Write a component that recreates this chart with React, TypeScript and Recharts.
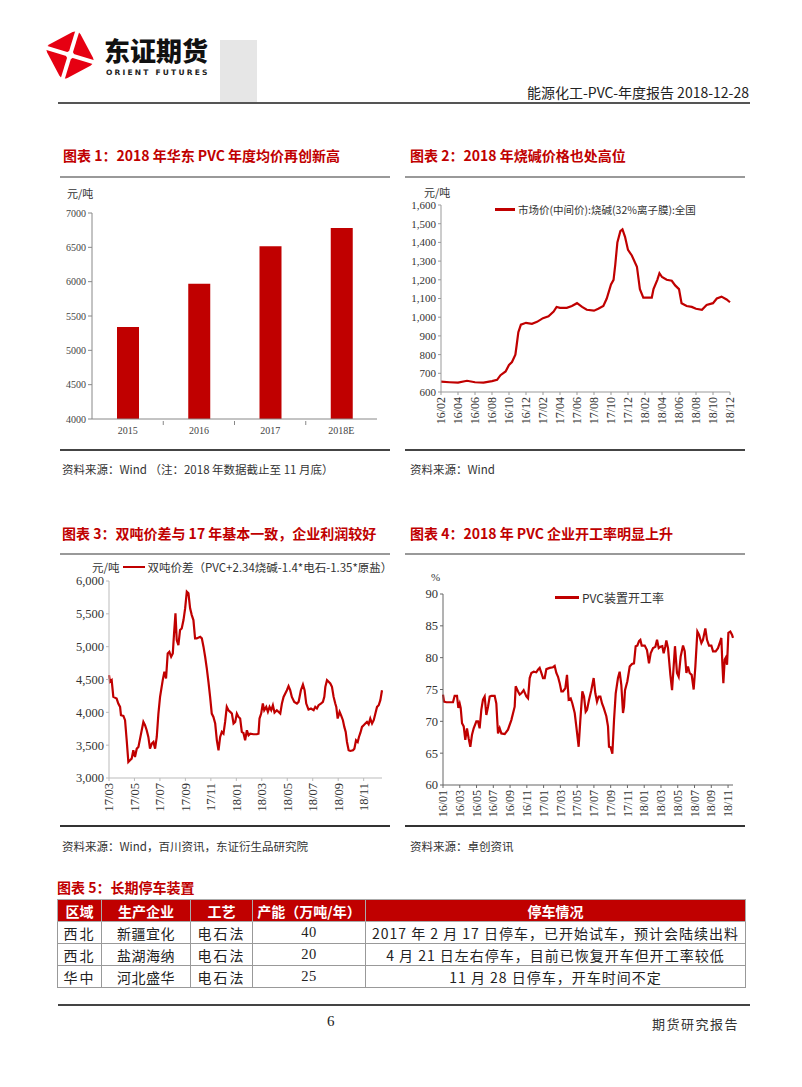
import React from "react";
import { BarChart, Bar, LineChart, Line, XAxis, YAxis } from "recharts";

const SERIF = '"Liberation Serif", "Noto Sans CJK SC", serif';
const CJK = '"Noto Sans CJK SC", "Liberation Serif", sans-serif';
const RED = "#c00000";

// 图表1：华东 PVC 年度均价
const avgYears = ["2015", "2016", "2017", "2018E"];
const avgPrice = [5340, 5970, 6515, 6780];
const avgTicks = [4000, 4500, 5000, 5500, 6000, 6500, 7000];

// 图表2：烧碱价格，月份偏移（自 16/02 起）
const sodaLabels = ["16/02", "16/04", "16/06", "16/08", "16/10", "16/12", "17/02", "17/04", "17/06", "17/08", "17/10", "17/12", "18/02", "18/04", "18/06", "18/08", "18/10", "18/12"];
const sodaMonths = [0, 1, 2, 3.06, 4, 5, 6, 6.6, 7.0, 7.6, 8, 8.35, 8.75, 8.9, 9.1, 9.4, 10, 10.7, 11.3, 12, 12.65, 13.25, 13.6, 14, 14.8, 15.4, 16, 16.6, 17.15, 18, 18.5, 19.1, 19.5, 20, 20.3, 20.5, 20.75, 21.1, 21.35, 21.65, 22, 22.45, 23.05, 23.4, 23.8, 24, 24.8, 25, 25.45, 25.7, 26, 26.55, 27.15, 27.55, 28, 28.3, 28.9, 29.5, 30, 30.7, 31.25, 32, 32.45, 33, 33.6, 34];
const sodaPrice = [655, 652, 650, 660, 652, 650, 658, 665, 690, 710, 745, 760, 800, 850, 920, 960, 970, 965, 975, 995, 1005, 1030, 1055, 1050, 1050, 1060, 1075, 1055, 1040, 1035, 1045, 1060, 1100, 1175, 1200, 1280, 1400, 1460, 1470, 1430, 1360, 1330, 1270, 1150, 1105, 1105, 1105, 1150, 1200, 1235, 1215, 1200, 1195, 1170, 1150, 1075, 1060, 1055, 1045, 1040, 1065, 1075, 1100, 1110, 1095, 1080];
const sodaTicks = [600, 700, 800, 900, 1000, 1100, 1200, 1300, 1400, 1500, 1600];

// 图表3：双吨价差，月份偏移（自 17/03 起）
const spreadLabels = ["17/03", "17/05", "17/07", "17/09", "17/11", "18/01", "18/03", "18/05", "18/07", "18/09", "18/11"];
const spreadMonths = [0, 0.08, 0.21, 0.34, 0.6, 0.73, 0.87, 0.94, 1.13, 1.26, 1.39, 1.52, 1.65, 1.78, 1.91, 2.04, 2.18, 2.31, 2.44, 2.57, 2.7, 2.83, 2.96, 3.09, 3.22, 3.36, 3.49, 3.62, 3.75, 3.88, 4.01, 4.22, 4.35, 4.48, 4.61, 4.74, 4.88, 5.01, 5.11, 5.22, 5.32, 5.45, 5.58, 5.71, 5.85, 5.98, 6.11, 6.24, 6.37, 6.5, 6.63, 6.76, 6.89, 7.16, 7.29, 7.42, 7.55, 7.68, 7.81, 7.94, 8.07, 8.2, 8.34, 8.47, 8.6, 8.73, 8.86, 8.99, 9.12, 9.25, 9.38, 9.52, 9.65, 9.78, 9.91, 10.04, 10.17, 10.3, 10.43, 10.56, 10.69, 10.83, 10.96, 11.09, 11.35, 11.61, 11.74, 11.82, 11.95, 12.08, 12.19, 12.35, 12.48, 12.61, 12.74, 12.87, 13.0, 13.18, 13.45, 13.58, 13.71, 13.97, 14.1, 14.23, 14.36, 14.55, 14.76, 14.89, 15.07, 15.23, 15.36, 15.49, 15.67, 15.86, 16.07, 16.2, 16.33, 16.46, 16.64, 16.8, 16.91, 16.99, 17.12, 17.25, 17.38, 17.51, 17.64, 17.77, 17.85, 17.96, 18.11, 18.22, 18.37, 18.48, 18.59, 18.69, 18.82, 18.95, 19.16, 19.27, 19.4, 19.53, 19.63, 19.74, 19.87, 20.0, 20.13, 20.26, 20.39, 20.52, 20.66, 20.79, 20.92, 21.05, 21.18, 21.31, 21.44];
const spreadValue = [4566, 4465, 4490, 4235, 4210, 4134, 4083, 3956, 3946, 3880, 3575, 3244, 3270, 3295, 3422, 3320, 3447, 3473, 3600, 3727, 3854, 3803, 3727, 3625, 3447, 3524, 3549, 3447, 3625, 3981, 4235, 4490, 4617, 4516, 4897, 4922, 4846, 4897, 5202, 5507, 5100, 5024, 5253, 5278, 5405, 5583, 5837, 5812, 5583, 5481, 5405, 5126, 5126, 5151, 5126, 5000, 4846, 4668, 4465, 4235, 3981, 3930, 3829, 3575, 3422, 3625, 3702, 3676, 3854, 4083, 4032, 4007, 3981, 3829, 3854, 3981, 3930, 3905, 3702, 3686, 3575, 3727, 3651, 3676, 3666, 3666, 3676, 3905, 3981, 4134, 4032, 4083, 4007, 4083, 4032, 4108, 3996, 4032, 3981, 4134, 4235, 4337, 4398, 4337, 4235, 4159, 4134, 4159, 4337, 4424, 4337, 4134, 4042, 4058, 4032, 4083, 4058, 4108, 4134, 4159, 4235, 4388, 4490, 4465, 4439, 4388, 4235, 4134, 4083, 3905, 4007, 3956, 3880, 3778, 3702, 3549, 3422, 3412, 3422, 3447, 3575, 3549, 3625, 3686, 3778, 3803, 3829, 3854, 3819, 3905, 3829, 3880, 3981, 4083, 4108, 4185, 4337];
const spreadTicks = [3000, 3500, 4000, 4500, 5000, 5500, 6000];

// 图表4：PVC 装置开工率，月份偏移（自 16/01 起）
const rateLabels = ["16/01", "16/03", "16/05", "16/07", "16/09", "16/11", "17/01", "17/03", "17/05", "17/07", "17/09", "17/11", "18/01", "18/03", "18/05", "18/07", "18/09", "18/11"];
const rateMonths = [0, 0.12, 0.4, 0.99, 1.19, 1.39, 1.67, 1.83, 1.99, 2.11, 2.27, 2.47, 2.66, 2.86, 3.06, 3.26, 3.46, 3.66, 3.98, 4.17, 4.37, 4.57, 4.77, 4.97, 5.17, 5.37, 5.57, 5.77, 6.16, 6.36, 6.56, 6.76, 6.96, 7.36, 7.75, 8.15, 8.55, 8.67, 8.95, 9.15, 9.34, 9.62, 9.94, 10.14, 10.34, 10.54, 10.82, 11.13, 11.33, 11.53, 11.73, 11.93, 12.13, 12.33, 12.72, 13.12, 13.32, 13.52, 13.72, 13.92, 14.12, 14.31, 14.59, 14.79, 14.99, 15.23, 15.43, 15.71, 15.9, 16.18, 16.38, 16.62, 16.82, 17.02, 17.18, 17.42, 17.69, 17.97, 18.17, 18.37, 18.57, 18.77, 18.97, 19.17, 19.48, 19.68, 19.8, 20.0, 20.2, 20.4, 20.6, 20.87, 21.07, 21.27, 21.47, 21.59, 21.71, 21.99, 22.27, 22.54, 22.78, 22.98, 23.18, 23.38, 23.54, 23.7, 24.06, 24.33, 24.57, 24.77, 25.05, 25.33, 25.53, 25.73, 25.92, 26.16, 26.32, 26.52, 26.64, 26.84, 27.12, 27.32, 27.51, 27.67, 27.91, 28.11, 28.35, 28.63, 28.83, 29.03, 29.22, 29.42, 29.66, 29.9, 30.1, 30.34, 30.54, 30.82, 31.01, 31.29, 31.49, 31.73, 32.01, 32.21, 32.52, 32.8, 33.08, 33.2, 33.32, 33.44, 33.6, 33.72, 33.88, 34.04, 34.27, 34.47, 34.59];
const rateValue = [74.2, 73.1, 73, 73, 73, 74, 74, 72.1, 72.8, 72.1, 69.7, 69.2, 67.1, 68.9, 67.3, 66, 67.9, 68.9, 70, 70, 68.9, 71.8, 73.4, 73.9, 71, 72.3, 73.9, 74, 74, 72.8, 68.1, 68.9, 68.1, 68, 68.7, 70.2, 72.3, 75.5, 74.7, 74.2, 74.4, 74.9, 73.9, 73.6, 76.8, 77.6, 77.8, 77.7, 78.1, 78.4, 77.6, 76.8, 76.8, 78.2, 78.4, 78.5, 78.7, 77.6, 77, 76, 74.7, 74.7, 75.2, 77.3, 73.4, 73.6, 72.8, 71.3, 69.2, 66, 70.2, 74.7, 73.9, 71.5, 71.8, 73.4, 74.9, 76.8, 74.4, 73.1, 73.9, 73.9, 72.8, 72.1, 70.8, 69.2, 66, 65.9, 64.9, 70.2, 74.4, 76.8, 77.8, 75.7, 71.3, 72.3, 74.9, 76.3, 78.6, 79, 79.1, 81.8, 81.9, 82.6, 82.8, 81.9, 81.9, 81.2, 79.1, 80.7, 81.5, 81.7, 82.8, 81.5, 81.7, 81.8, 80.7, 81.8, 82.7, 81.5, 77.3, 74.9, 78.6, 81.8, 77.6, 77, 80.2, 81.9, 81, 77.6, 78.6, 77.6, 77.3, 75, 78.6, 84.1, 83.6, 82.3, 82.8, 84.6, 82.8, 81.9, 81.9, 81, 81, 81.5, 82.6, 83.1, 79.1, 76, 79.7, 80, 78.9, 83.9, 84.1, 83.6, 83.1];
const rateTicks = [60, 65, 70, 75, 80, 85, 90];

// 图表5：长期停车装置
const tableHead = ["区域", "生产企业", "工艺", "产能（万吨/年）", "停车情况"];
const tableRows = [
  ["西北", "新疆宜化", "电石法", "40", "2017 年 2 月 17 日停车，已开始试车，预计会陆续出料"],
  ["西北", "盐湖海纳", "电石法", "20", "4 月 21 日左右停车，目前已恢复开车但开工率较低"],
  ["华中", "河北盛华", "电石法", "25", "11 月 28 日停车，开车时间不定"],
];

const avgData = avgYears.map((year, i) => ({ year, price: avgPrice[i] }));
const sodaData = sodaMonths.map((m, i) => ({ m, v: sodaPrice[i] }));
const spreadData = spreadMonths.map((m, i) => ({ m, v: spreadValue[i] }));
const rateData = rateMonths.map((m, i) => ({ m, v: rateValue[i] }));

const comma = (v: number) => v.toLocaleString("en-US");

// rotated month labels under the x axis
const RotTick = (props: any) => {
  const { x, y, payload, labels, fontSize } = props;
  const label = labels[Math.round(payload.value / 2)];
  return (
    <text
      x={x}
      y={y}
      dy="0.35em"
      transform={`rotate(-90 ${x} ${y})`}
      textAnchor="end"
      fontFamily={SERIF}
      fontSize={fontSize}
      fill="#333"
    >
      {label}
    </text>
  );
};

const abs = (left: number, top: number, extra: React.CSSProperties = {}): React.CSSProperties => ({
  position: "absolute",
  left,
  top,
  whiteSpace: "nowrap",
  ...extra,
});

const Title = ({ left, top, children }: any) => (
  <div style={abs(left, top, { color: RED, fontFamily: CJK, fontWeight: 700, fontSize: 14, lineHeight: "16px" })}>
    {children}
  </div>
);

const Source = ({ left, top, children }: any) => (
  <div style={abs(left, top, { color: "#333", fontFamily: CJK, fontSize: 11.5, lineHeight: "14px" })}>
    {children}
  </div>
);

const HLine = ({ left, top, width, color = "#999", h = 1.5 }: any) => (
  <div style={abs(left, top, { width, height: h, background: color })} />
);

const Logo = () => (
  <svg width={52} height={52} style={abs(44, 29)}>
    <g transform="translate(26,26) rotate(-28)">
      <rect x={-19} y={-19} width={38} height={38} rx={6} fill="#e60012" />
      <line x1={-19} y1={-19} x2={19} y2={19} stroke="#fff" strokeWidth={4} />
      <line x1={-19} y1={19} x2={19} y2={-19} stroke="#fff" strokeWidth={4} />
      <circle cx={0} cy={0} r={4} fill="#fff" />
    </g>
  </svg>
);

const App = () => {
  const band1 = (377 - 92) / avgYears.length;

  const YearTick = (p: any) => (
    <g>
      <text x={p.x} y={p.y} dy="0.71em" textAnchor="middle" fontFamily={SERIF} fontSize={10} fill="#444">
        {p.payload.value}
      </text>
      {p.index < avgYears.length - 1 && (
        <line x1={p.x + band1 / 2} x2={p.x + band1 / 2} y1={p.y - 6} y2={p.y - 2} stroke="#888" />
      )}
    </g>
  );

  return (
    <div style={{ position: "absolute", left: 0, top: 0, width: 802, height: 1087, background: "#fff", overflow: "hidden" }}>
      {/* header */}
      <Logo />
      <div style={abs(104, 35, { fontFamily: CJK, fontWeight: 900, fontSize: 26, lineHeight: "30px", color: "#111", letterSpacing: 0 })}>
        东证期货
      </div>
      <div style={abs(106, 68, { fontFamily: '"DejaVu Sans", sans-serif', fontWeight: 700, fontSize: 7.5, letterSpacing: 2.2, color: "#222" })}>
        ORIENT FUTURES
      </div>
      <div style={abs(220, 40, { width: 37, height: 63, background: "#e6e6e6" })} />
      <div style={abs(523, 83, { fontFamily: CJK, fontSize: 14, lineHeight: "18px", color: "#222", width: 226, textAlign: "right" })}>
        能源化工-PVC-年度报告 2018-12-28
      </div>
      <HLine left={58} top={102} width={692} color="#555" h={2} />

      {/* 图表1 */}
      <Title left={63} top={147}>图表 1：2018 年华东 PVC 年度均价再创新高</Title>
      <HLine left={60} top={176} width={330} />
      <div style={abs(67, 185, { fontFamily: CJK, fontSize: 11, color: "#333" })}>元/吨</div>
      <div style={abs(50, 200)}>
        <BarChart width={340} height={250} data={avgData} margin={{ top: 13, right: 13, left: 0, bottom: 0 }}>
          <XAxis
            dataKey="year"
            height={31}
            stroke="#888"
            tickSize={6}
            tickLine={false}
            tick={YearTick}
            interval={0}
          />
          <YAxis
            width={42}
            domain={[4000, 7000]}
            ticks={avgTicks}
            interval={0}
            stroke="#888"
            tickSize={4}
            tick={{ fontFamily: SERIF, fontSize: 10, fill: "#444" }}
          />
          <Bar dataKey="price" fill={RED} barSize={22} isAnimationActive={false} />
        </BarChart>
      </div>
      <HLine left={60} top={449} width={330} color="#444" />
      <Source left={62} top={462}>资料来源：Wind （注：2018 年数据截止至 11 月底）</Source>

      {/* 图表2 */}
      <Title left={410} top={147}>图表 2：2018 年烧碱价格也处高位</Title>
      <HLine left={405} top={176} width={340} />
      <div style={abs(424, 184, { fontFamily: CJK, fontSize: 11, color: "#333" })}>元/吨</div>
      <div style={abs(395, 185)}>
        <LineChart width={350} height={255} data={sodaData} margin={{ top: 20, right: 15, left: 0, bottom: 0 }}>
          <XAxis
            dataKey="m"
            type="number"
            domain={[0, 34]}
            ticks={sodaLabels.map((_, i) => i * 2)}
            interval={0}
            height={48}
            stroke="#999"
            tickSize={3}
            tickMargin={2}
            tick={(p: any) => <RotTick {...p} labels={sodaLabels} fontSize={12} />}
          />
          <YAxis
            width={46}
            domain={[600, 1600]}
            ticks={sodaTicks}
            interval={0}
            stroke="#999"
            tickSize={3}
            tickFormatter={comma}
            tick={{ fontFamily: SERIF, fontSize: 11, fill: "#333" }}
          />
          <Line type="linear" dataKey="v" stroke={RED} strokeWidth={2.2} dot={false} isAnimationActive={false} />
        </LineChart>
      </div>
      <div style={abs(495, 202, { display: "flex", alignItems: "center", fontFamily: CJK, fontSize: 10.5, color: "#333" })}>
        <span style={{ display: "inline-block", width: 20, height: 2.5, background: RED, marginRight: 3 }} />
        市场价(中间价):烧碱(32%离子膜):全国
      </div>
      <HLine left={405} top={449} width={340} color="#444" />
      <Source left={410} top={462}>资料来源：Wind</Source>

      {/* 图表3 */}
      <Title left={62} top={525}>图表 3：双吨价差与 17 年基本一致，企业利润较好</Title>
      <HLine left={60} top={553} width={330} />
      <div style={abs(92, 560, { display: "flex", alignItems: "center", fontFamily: CJK, fontSize: 11.5, lineHeight: "14px", color: "#333" })}>
        <span>元/吨</span>
        <span style={{ display: "inline-block", width: 22, height: 2.5, background: RED, margin: "0 3px" }} />
        <span>双吨价差（PVC+2.34烧碱-1.4*电石-1.35*原盐）</span>
      </div>
      <div style={abs(50, 560)}>
        <LineChart width={340} height={260} data={spreadData} margin={{ top: 21, right: 8, left: 0, bottom: 0 }}>
          <XAxis
            dataKey="m"
            type="number"
            domain={[0, "dataMax"]}
            ticks={spreadLabels.map((_, i) => i * 2)}
            interval={0}
            height={42}
            stroke="#bbb"
            tickSize={3}
            tickMargin={2}
            tick={(p: any) => <RotTick {...p} labels={spreadLabels} fontSize={12.5} />}
          />
          <YAxis
            width={59}
            domain={[3000, 6000]}
            ticks={spreadTicks}
            interval={0}
            stroke="#bbb"
            tickSize={3}
            tickFormatter={comma}
            tick={{ fontFamily: SERIF, fontSize: 12.5, fill: "#333" }}
          />
          <Line type="linear" dataKey="v" stroke={RED} strokeWidth={2.2} dot={false} isAnimationActive={false} />
        </LineChart>
      </div>
      <HLine left={60} top={825} width={330} color="#333" />
      <Source left={62} top={839}>资料来源：Wind，百川资讯，东证衍生品研究院</Source>

      {/* 图表4 */}
      <Title left={410} top={525}>图表 4：2018 年 PVC 企业开工率明显上升</Title>
      <HLine left={405} top={553} width={340} />
      <div style={abs(431, 571, { fontFamily: SERIF, fontSize: 11, color: "#333" })}>%</div>
      <div style={abs(555, 589, { display: "flex", alignItems: "center", fontFamily: CJK, fontSize: 12, color: "#333" })}>
        <span style={{ display: "inline-block", width: 24, height: 2.5, background: RED, marginRight: 3 }} />
        PVC装置开工率
      </div>
      <div style={abs(395, 570)}>
        <LineChart width={350} height={255} data={rateData} margin={{ top: 24, right: 12, left: 0, bottom: 0 }}>
          <XAxis
            dataKey="m"
            type="number"
            domain={[0, "dataMax"]}
            ticks={rateLabels.map((_, i) => i * 2)}
            interval={0}
            height={40}
            stroke="#666"
            tickSize={3}
            tickMargin={2}
            tick={(p: any) => <RotTick {...p} labels={rateLabels} fontSize={12} />}
          />
          <YAxis
            width={48}
            domain={[60, 90]}
            ticks={rateTicks}
            interval={0}
            stroke="#666"
            tickSize={3}
            tick={{ fontFamily: SERIF, fontSize: 12.5, fill: "#333" }}
          />
          <Line type="linear" dataKey="v" stroke={RED} strokeWidth={2.2} dot={false} isAnimationActive={false} />
        </LineChart>
      </div>
      <HLine left={405} top={825} width={340} color="#333" />
      <Source left={410} top={839}>资料来源：卓创资讯</Source>

      {/* 图表5 */}
      <Title left={57} top={879}>图表 5：长期停车装置</Title>
      <table
        style={{
          position: "absolute",
          left: 57,
          top: 899,
          width: 688,
          borderCollapse: "collapse",
          fontFamily: CJK,
          fontSize: 14,
          color: "#222",
          tableLayout: "fixed",
        }}
      >
        <colgroup>
          <col style={{ width: 44 }} />
          <col style={{ width: 89 }} />
          <col style={{ width: 62 }} />
          <col style={{ width: 113 }} />
          <col style={{ width: 380 }} />
        </colgroup>
        <thead>
          <tr style={{ background: RED, color: "#fff", height: 22 }}>
            {tableHead.map((h) => (
              <th key={h} style={{ fontWeight: 700, padding: 0, border: "1px solid #aaa", whiteSpace: "nowrap" }}>
                {h}
              </th>
            ))}
          </tr>
        </thead>
        <tbody>
          {tableRows.map((row, r) => (
            <tr key={r} style={{ height: 22 }}>
              {row.map((c, i) => (
                <td
                  key={i}
                  style={{
                    textAlign: "center",
                    padding: 0,
                    border: "1px solid #999",
                    whiteSpace: "nowrap",
                    fontFamily: i === 3 ? SERIF : CJK,
                    fontSize: i === 3 ? 14.5 : 14,
                    letterSpacing: i === 4 ? 1 : i === 0 || i === 2 ? 2 : 0.5,
                  }}
                >
                  {c}
                </td>
              ))}
            </tr>
          ))}
        </tbody>
      </table>

      {/* footer */}
      <HLine left={58} top={1004} width={692} color="#444" h={2} />
      <div style={abs(327, 1013, { fontFamily: SERIF, fontSize: 15, color: "#222" })}>6</div>
      <div style={abs(652, 1014, { fontFamily: CJK, fontSize: 13, color: "#333", letterSpacing: 1.5 })}>期货研究报告</div>
    </div>
  );
};

export default App;
